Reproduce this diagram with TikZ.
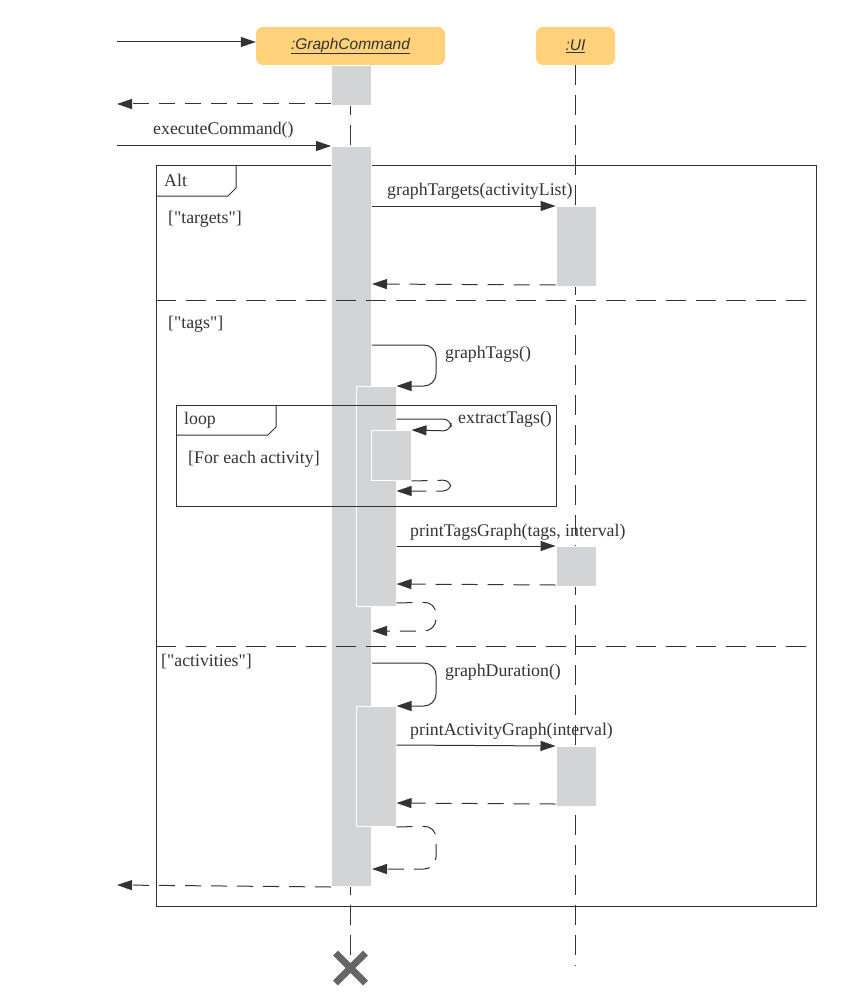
\documentclass[tikz,border=0pt]{standalone}
\usepackage{fontspec}
\setmainfont{Liberation Serif}
\newfontfamily\headfont{Liberation Sans}
\usetikzlibrary{arrows.meta}
\usetikzlibrary{calc}
\usetikzlibrary{positioning}
\definecolor{head-yellow}{RGB}{255, 209, 122}
\definecolor{act-grey}{RGB}{211, 212, 214}
\definecolor{line-dark}{RGB}{51, 51, 51}
\definecolor{cross-grey}{RGB}{102, 102, 102}

\tikzset{
  head/.style={rectangle, rounded corners=7pt, fill=head-yellow, minimum height=38pt, inner sep=0pt,
    font=\headfont\itshape\fontsize{15.5}{18}\selectfont, text=line-dark},
  act/.style={rectangle, fill=act-grey, draw=white, line width=1pt, minimum width=40pt, inner sep=0pt, anchor=north},
  msg/.style={draw=line-dark, line width=1pt, -{Triangle[length=15pt,width=10pt]}},
  ret/.style={msg, dash pattern=on 16pt off 10pt},
  lifeline/.style={draw=line-dark, line width=1pt, dash pattern=on 20pt off 10pt},
  sep/.style={draw=line-dark, line width=1pt, dash pattern=on 20pt off 10pt},
  frame/.style={draw=line-dark, line width=1pt},
  lbl/.style={anchor=base west, inner sep=0pt, text=line-dark, font=\fontsize{17.8}{21}\selectfont},
}
\newcommand{\qt}[1]{\textquotedbl#1\textquotedbl}

\begin{document}
\begin{tikzpicture}[x=1pt, y=-1pt]
  \useasboundingbox (0,0) rectangle (849,995);

  % heads and lifelines
  \node[head, minimum width=189pt] (gc) at (350.5,46) {\underline{:GraphCommand}};
  \node[head, minimum width=79pt] (ui) at (575.5,46) {\underline{:UI}};
  \coordinate (gcX) at (350.5,968);
  \coordinate (uiEnd) at (575.5,966);
  \draw[lifeline] (gc.south) -- (gcX);
  \draw[lifeline] (ui.south) -- (uiEnd);

  % alt frame
  \draw[frame] (156,166) rectangle (816,906);
  \draw[frame] (156,196) -- (228,196) -- (236,188) -- (236,166);

  % activations
  \node[act, minimum height=40pt] (a0) at (351.5,65) {};
  \node[act, minimum height=740pt] (main) at (351.5,146) {};
  \node[act, minimum height=220pt] (tagsAct) at (376,386) {};
  \node[act, minimum height=50pt] (exAct) at (391,430) {};
  \node[act, minimum height=120pt] (durAct) at (376,706) {};
  \node[act, minimum height=80pt] (ui1) at (576,206) {};
  \node[act, minimum height=40pt] (ui2) at (576,546) {};
  \node[act, minimum height=60pt] (ui3) at (576,746) {};

  % operand separators
  \draw[sep] (156,300) -- (816,300);
  \draw[sep] (156,646) -- (816,646);

  % loop frame
  \draw[frame] (176,405) rectangle (556,506);
  \draw[frame] (176,435) -- (268,435) -- (276,427) -- (276,405);

  % messages
  \coordinate (in0) at (117,42);
  \coordinate (out0) at (117,104);
  \coordinate (in1) at (117,146);
  \coordinate (out1) at (117,885);
  \draw[msg] (in0) -- (in0 -| gc.west);
  \draw[ret] (a0.west |- out0) -- (out0);
  \draw[msg] (in1) -- (main.north west);

  \draw[msg] (main.east |- ui1.north) -- (ui1.north west);
  \draw[ret] ([yshift=2pt]ui1.south west) -- (main.east |- 0,284);

  \draw[msg, rounded corners=12pt] (main.east |- 0,345) -- (436,345) -- (436,386) -- (tagsAct.north east);
  \draw[msg, rounded corners=8pt] (tagsAct.east |- 0,419) -- (451,419) -- (451,431) -- (exAct.north east);
  \draw[ret, rounded corners=8pt] (exAct.south east) -- (451,480) -- (451,491) -- (tagsAct.east |- 0,491);
  \draw[msg] (tagsAct.east |- ui2.north) -- (ui2.north west);
  \draw[ret] ([yshift=2pt]ui2.south west) -- (tagsAct.east |- 0,584);
  \draw[ret, rounded corners=12pt] ([yshift=4pt]tagsAct.south east) -- (436,602) -- (436,631) -- (main.east |- 0,631);

  \draw[msg, rounded corners=12pt] (main.east |- 0,663) -- (436,663) -- (436,706) -- (durAct.north east);
  \draw[msg] (durAct.east |- 0,745) -- (ui3.north west);
  \draw[ret] ([yshift=3pt]ui3.south west) -- (durAct.east |- 0,803);
  \draw[ret, rounded corners=12pt] (durAct.south east) -- (436,826) -- (436,869) -- (main.east |- 0,869);

  \draw[ret] (main.south west) -- (out1);

  % destruction
  \draw[cross-grey, line width=7pt] ($(gcX)+(-15,-15)$) -- ($(gcX)+(15,15)$)
    ($(gcX)+(-15,15)$) -- ($(gcX)+(15,-15)$);

  % labels
  \node[lbl] (lExec) at (153,135) {executeCommand()};
  \node[lbl] (lAlt) at (164,186) {Alt};
  \node[lbl] (lTargetsG) at (387,195) {graphTargets(activityList)};
  \node[lbl] (lTargets) at (168,223) {[\qt{targets}]};
  \node[lbl] (lTags) at (168,328) {[\qt{tags}]};
  \node[lbl] (lGraphTags) at (445,358) {graphTags()};
  \node[lbl] (lLoop) at (184,424) {loop};
  \node[lbl] (lExtract) at (458,423) {extractTags()};
  \node[lbl] (lEach) at (188,463) {[For each activity]};
  \node[lbl] (lPrintTags) at (410,536) {printTagsGraph(tags, interval)};
  \node[lbl] (lActs) at (161,666) {[\qt{activities}]};
  \node[lbl] (lDuration) at (445,676) {graphDuration()};
  \node[lbl] (lPrintAct) at (410,735) {printActivityGraph(interval)};
\end{tikzpicture}
\end{document}
